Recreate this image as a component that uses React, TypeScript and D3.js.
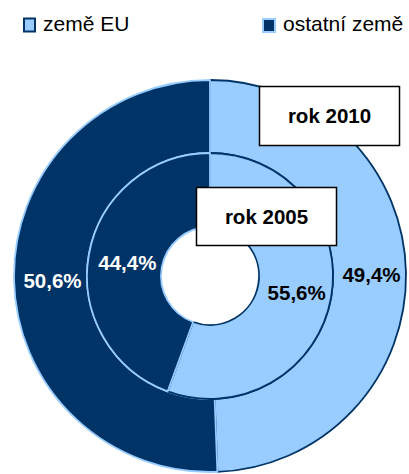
import React from "react";
import * as d3 from "d3";

const categories = ["země EU", "ostatní země"];
const values2010 = [49.4, 50.6];
const values2005 = [55.6, 44.4];
const yearLabels = ["rok 2010", "rok 2005"];

const fills = ["#99CCFF", "#003366"];
const strokes = ["#003366", "#99CCFF"];
const labelColors = ["#000000", "#ffffff"];

const W = 409;
const H = 474;
const cx = 210;
const cy = 276;

export default function App() {
  const pie = d3.pie<number>().sort(null).value((d) => d);
  const rings = [
    { values: values2010, inner: 123, outer: 196 },
    { values: values2005, inner: 49, outer: 123 },
  ];
  const fmt = (v: number) => v.toFixed(1).replace(".", ",") + "%";
  const font = "'Liberation Sans', Arial, sans-serif";

  return (
    <svg width={W} height={H} style={{ position: "absolute", left: 0, top: 0 }} fontFamily={font}>
      <rect width={W} height={H} fill="#fff" />
      {/* legend */}
      <g>
        <rect x={24} y={18.5} width={11} height={13} fill={fills[0]} stroke={strokes[0]} strokeWidth={2} />
        <text x={43} y={31} fontSize={21} fill="#000">{categories[0]}</text>
        <rect x={263} y={19} width={12} height={13} fill={fills[1]} stroke={strokes[1]} strokeWidth={2} />
        <text x={283} y={31} fontSize={21} fill="#000">{categories[1]}</text>
      </g>
      <g transform={`translate(${cx},${cy})`}>
        {rings.map((ring, ri) => {
          const arc = d3.arc<d3.PieArcDatum<number>>().innerRadius(ring.inner).outerRadius(ring.outer);
          const arcs = pie(ring.values);
          return (
            <g key={ri}>
              {arcs.map((a, i) => (
                <path key={i} d={arc(a) || ""} fill={fills[i]} stroke={strokes[i]} strokeWidth={1.8} strokeLinejoin="round" />
              ))}
            </g>
          );
        })}
        {rings.map((ring, ri) => {
          const arc = d3.arc<d3.PieArcDatum<number>>().innerRadius(ring.inner).outerRadius(ring.outer);
          const arcs = pie(ring.values);
          return (
            <g key={"l" + ri}>
              {arcs.map((a, i) => {
                const [x, y] = arc.centroid(a);
                return (
                  <text key={i} x={x + 2} y={y + 2} dy="0.35em" textAnchor="middle" fontSize={20.5} fontWeight="bold" fill={labelColors[i]}>
                    {fmt(ring.values[i])}
                  </text>
                );
              })}
            </g>
          );
        })}
      </g>
      {/* year boxes */}
      <g>
        <rect x={259.5} y={86.5} width={140} height={59} fill="#fff" stroke="#000" strokeWidth={1.5} />
        <text x={329.5} y={116} dy="0.35em" textAnchor="middle" fontSize={20.5} fontWeight="bold">{yearLabels[0]}</text>
        <rect x={196.5} y={187.5} width={140} height={58} fill="#fff" stroke="#000" strokeWidth={1.5} />
        <text x={266.5} y={216.5} dy="0.35em" textAnchor="middle" fontSize={20.5} fontWeight="bold">{yearLabels[1]}</text>
      </g>
    </svg>
  );
}
